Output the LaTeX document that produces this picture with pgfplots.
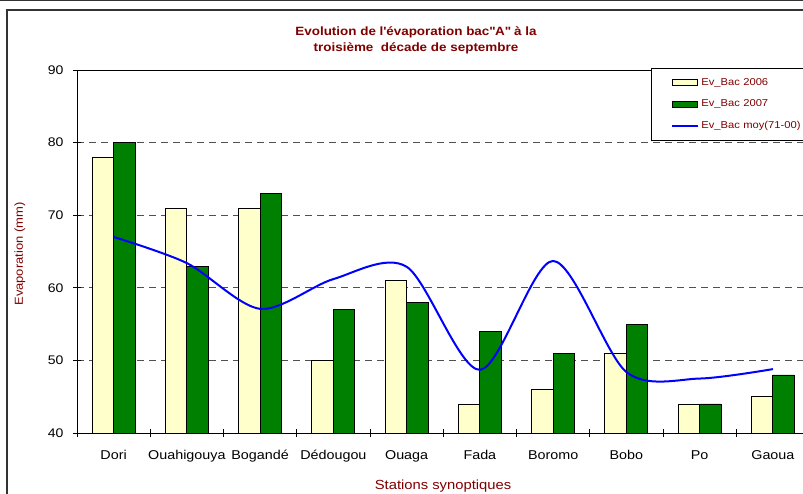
\documentclass[border=0pt]{standalone}
\usepackage{fontspec}
\setmainfont{Liberation Sans}[FakeStretch=1.12]
\usepackage{pgfplots}
\pgfplotsset{compat=1.18}
\definecolor{ttl}{RGB}{128,0,0}
\definecolor{barY}{RGB}{255,255,204}
\definecolor{barG}{RGB}{0,128,0}
\definecolor{gridc}{RGB}{80,80,80}
\pgfplotsset{
  barleg/.style={legend image code/.code={\draw[##1] (0pt,-3pt) rectangle (25pt,3pt);}},
  lineleg/.style={legend image code/.code={\draw[##1] (0pt,0pt) -- (26pt,0pt);}},
}
\begin{document}
\begin{tikzpicture}
\path[use as bounding box] (0pt,0pt) rectangle (803pt,493pt);
\draw[line width=1.3pt, black!80] (-5pt,492.6pt) -- (810pt,492.6pt);
\draw[line width=1.3pt, black!80] (7pt,-5pt) -- (7pt,483pt) -- (810pt,483pt);
\begin{axis}[
  at={(77pt,60pt)}, anchor=south west,
  scale only axis, width=732.5pt, height=363pt,
  xmin=-0.5, xmax=9.5, ymin=40, ymax=90,
  axis line style={black, line width=0.8pt},
  tick style={black, line width=0.8pt},
  tick align=center, tick pos=left,
  xtick={0,...,9},
  xticklabels={Dori,Ouahigouya,Bogandé,Dédougou,Ouaga,Fada,Boromo,Bobo,Po,Gaoua},
  major x tick style={draw=none},
  minor xtick={-0.5,0.5,...,9.5},
  minor tick length=8pt, major tick length=8pt,
  ytick={40,50,...,90},
  ymajorgrids,
  major grid style={gridc, line width=0.8pt, dash pattern=on 7pt off 5pt},
  /pgf/number format/assume math mode=true,
  xticklabel style={font=\fontsize{12.8}{14}\selectfont, anchor=base, yshift=-22pt},
  yticklabel style={font=\fontsize{12.5}{14}\selectfont, xshift=-6pt},
  xlabel={Stations synoptiques},
  xlabel style={font=\fontsize{13.2}{15}\selectfont, text=ttl, at={(axis description cs:0.4997,0)}, anchor=base, yshift=-56.5pt},
  ylabel={Evaporation (mm)},
  ylabel style={font=\fontsize{11.6}{14}\selectfont, text=ttl, at={(axis description cs:0,0.4931)}, anchor=center, yshift=57pt},
  title={Evolution de l\textquotesingle évaporation bac\textquotedbl A\textquotedbl\ à la\\troisième \ décade de septembre},
  title style={font=\bfseries\fontsize{12}{16}\selectfont, text=ttl, align=center, at={(axis description cs:0.4628,1)}, anchor=south, inner sep=0pt, yshift=9.5pt},
  legend style={at={(rel axis cs:0.7836,1.0055)}, anchor=north west, draw=black, line width=0.8pt, fill=white,
    font=\fontsize{10}{12}\selectfont, text=ttl, row sep=9pt, inner ysep=8pt, inner xsep=20pt,
    nodes={text width=110pt}},
  legend cell align=left,
]
\addplot[ybar, bar width=21.5pt, bar shift=-10.75pt, fill=barY, draw=black, line width=0.8pt, barleg]
  coordinates {(0,78) (1,71) (2,71) (3,50) (4,61) (5,44) (6,46) (7,51) (8,44) (9,45)};
\addlegendentry{Ev\_Bac  2006}
\addplot[ybar, bar width=21.5pt, bar shift=10.75pt, fill=barG, draw=black, line width=0.8pt, barleg]
  coordinates {(0,80) (1,63) (2,73) (3,57) (4,58) (5,54) (6,51) (7,55) (8,44) (9,48)};
\addlegendentry{Ev\_Bac  2007}
\addplot[smooth, blue, line width=2pt, mark=none, lineleg]
  coordinates {(0,67) (1,63.4) (2,57.1) (3,61.2) (4,62.9) (5,48.7) (6,63.7) (7,48.4) (8,47.5) (9,48.8)};
\addlegendentry{Ev\_Bac moy(71-00)}
\end{axis}
\end{tikzpicture}
\end{document}
